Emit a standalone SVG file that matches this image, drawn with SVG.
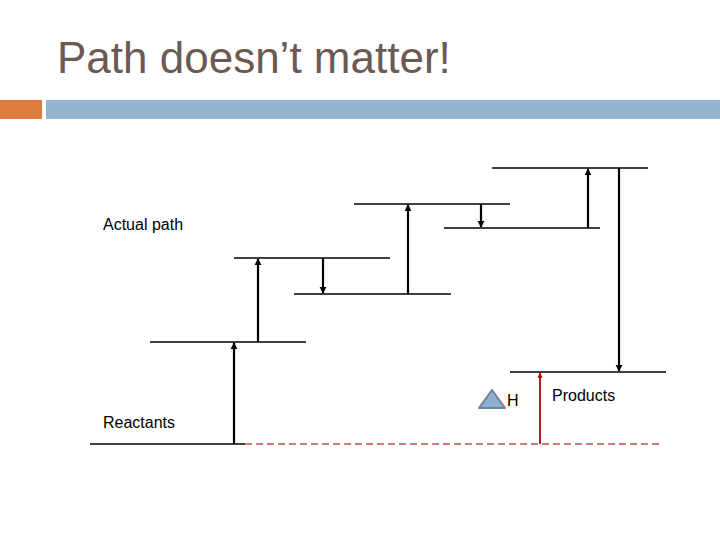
<svg xmlns="http://www.w3.org/2000/svg" width="720" height="540" viewBox="0 0 720 540">
<style>
.title{font-family:"Liberation Sans",Arial,sans-serif;font-size:44px;fill:#6b5a52}
.lbl{font-family:"Liberation Sans",Arial,sans-serif;font-size:16px;fill:#000}
.lvl{stroke:#000;stroke-width:1.5;fill:none}
.arr{stroke:#000;stroke-width:2.2;fill:none;marker-end:url(#ah)}
</style>
<defs>
<marker id="ah" viewBox="0 0 10 10" refX="9" refY="5" markerWidth="3.2" markerHeight="3.2" orient="auto" markerUnits="strokeWidth">
<path d="M0,0 L10,5 L0,10 z" fill="#000"/>
</marker>
<marker id="ahr" viewBox="0 0 10 10" refX="9" refY="5" markerWidth="2.6" markerHeight="2.6" orient="auto" markerUnits="strokeWidth">
<path d="M0,0 L10,5 L0,10 z" fill="#c00000"/>
</marker>
</defs>
<rect width="720" height="540" fill="#fff"/>
<text class="title" x="57" y="73">Path doesn’t matter!</text>
<rect x="0" y="100" width="42" height="19" fill="#e07b3f"/>
<rect x="46" y="100" width="674" height="19" fill="#94b4d1"/>

<g id="levels">
<line class="lvl" x1="90" y1="444" x2="245" y2="444"/>
<line class="lvl" x1="150" y1="342" x2="306" y2="342"/>
<line class="lvl" x1="234" y1="258" x2="390" y2="258"/>
<line class="lvl" x1="294" y1="294" x2="451" y2="294"/>
<line class="lvl" x1="354" y1="204" x2="510" y2="204"/>
<line class="lvl" x1="444" y1="228" x2="600" y2="228"/>
<line class="lvl" x1="492" y1="168" x2="648" y2="168"/>
<line class="lvl" x1="510" y1="372" x2="666" y2="372"/>
<line x1="245" y1="444" x2="660" y2="444" stroke="#c0504d" stroke-width="1.5" stroke-dasharray="7,4"/>
</g>

<g id="connectors">
<line class="arr" x1="234" y1="444" x2="234" y2="343"/>
<line class="arr" x1="258" y1="342" x2="258" y2="259"/>
<line class="arr" x1="323" y1="258" x2="323" y2="293"/>
<line class="arr" x1="408" y1="294" x2="408" y2="205"/>
<line class="arr" x1="481" y1="204" x2="481" y2="227"/>
<line class="arr" x1="588" y1="228" x2="588" y2="169"/>
<line class="arr" x1="619" y1="168" x2="619" y2="371"/>
<line x1="540" y1="444" x2="540" y2="373" stroke="#b01c1c" stroke-width="2" marker-end="url(#ahr)"/>
</g>

<g id="labels">
<text class="lbl" x="103" y="230">Actual path</text>
<text class="lbl" x="103" y="428">Reactants</text>
<text class="lbl" x="552" y="401">Products</text>
<polygon points="492,390 505,408 479,408" fill="#8fb0d3" stroke="#6e8395" stroke-width="2" stroke-linejoin="round"/>
<text class="lbl" x="507" y="406" font-size="17">H</text>
</g>
</svg>
